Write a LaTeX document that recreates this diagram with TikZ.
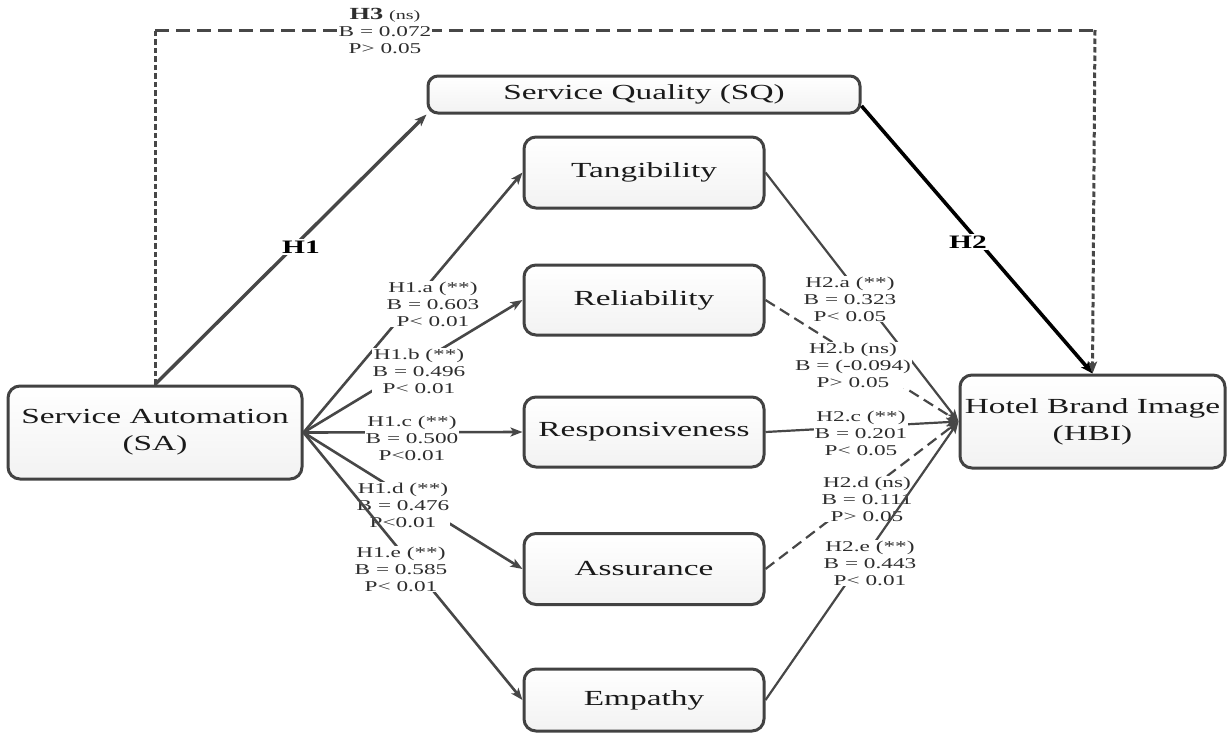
\documentclass[tikz,border=0pt]{standalone}
\usepackage{fontspec}
\setmainfont{Liberation Serif}[FakeStretch=1.55]
\usetikzlibrary{arrows.meta}
\definecolor{boxline}{HTML}{424242}
\definecolor{lineg}{HTML}{474747}
\definecolor{txt}{HTML}{1A1A1A}
\definecolor{lbl}{HTML}{2E2E2E}
\begin{document}
\begin{tikzpicture}[x=1pt,y=-1pt,
  box/.style={draw=boxline, line width=3pt, rounded corners=12pt, top color=white, bottom color=black!5,
    inner sep=0pt, font=\fontsize{21.5}{27}\selectfont, text=txt, align=center},
  arr/.style={-{Stealth[length=12pt,width=9pt,inset=3pt]}},
  hone/.style={draw=lineg, line width=2.6pt, arr},
  htwo/.style={draw=lineg, line width=2.2pt, arr},
  hdash/.style={htwo, dash pattern=on 11pt off 6pt},
  lab/.style={fill=white, inner sep=1pt, align=center, font=\fontsize{15}{17}\selectfont, text=lbl},
  blab/.style={fill=white, inner sep=1.5pt, font=\fontsize{19}{22}\selectfont\bfseries, text=black},
  hthreev/.style={draw=lineg, line width=3pt, dash pattern=on 5.5pt off 3pt},
  hthreeh/.style={draw=lineg, line width=3pt, dash pattern=on 14pt off 7pt}]
\useasboundingbox (0,0) rectangle (1227,734);

% boxes
\node[box, minimum width=294pt, minimum height=93pt] (SA) at (155,432.5) {Service Automation\\(SA)};
\node[box, minimum width=432pt, minimum height=37pt, rounded corners=10pt] (SQ) at (644,94.5) {Service Quality (SQ)};
\node[box, minimum width=240pt, minimum height=71pt] (T) at (644,172.5) {Tangibility};
\node[box, minimum width=240pt, minimum height=70pt] (R) at (644,300) {Reliability};
\node[box, minimum width=240pt, minimum height=70pt] (Rs) at (644,432) {Responsiveness};
\node[box, minimum width=240pt, minimum height=71pt] (A) at (644,569) {Assurance};
\node[box, minimum width=240pt, minimum height=62pt] (E) at (644,700) {Empathy};
\node[box, minimum width=265pt, minimum height=93pt] (HBI) at (1092.5,421.5) {Hotel Brand Image\\(HBI)};

% H3 dashed path
\coordinate (c1) at (155,30);
\coordinate (c2) at (1095,30);
\draw[hthreev] (SA.north) -- (c1);
\draw[hthreeh] (c1) -- (c2);
\draw[hthreev, arr] (c2) -- (HBI.north);
\node[lab] (l3) at (385,31) {{\fontsize{17}{17}\selectfont\bfseries H3} {\fontsize{13}{17}\selectfont (ns)}\\B = 0.072\\P> 0.05};

% H1 and H2 main paths
\draw[draw=lineg, line width=3.4pt, arr] (SA.north) -- (SQ.south west);
\node[blab] (l1) at (301,247) {H1};
\draw[draw=black, line width=3.6pt, arr] (SQ.-3) -- (HBI.north);
\node[blab] (l2) at (968,242) {H2};

% SA to dimensions
\draw[hone] (SA.east) -- (T.west);
\node[lab] (la) at (433,304) {H1.a (**)\\B = 0.603\\P< 0.01};
\draw[hone] (SA.east) -- (R.west);
\node[lab] (lb) at (419,371) {H1.b (**)\\B = 0.496\\P< 0.01};
\draw[hone] (SA.east) -- (Rs.west);
\node[lab] (lc) at (412,438) {H1.c (**)\\B = 0.500\\P<0.01};
\draw[hone] (SA.east) -- (A.west);
\node[lab] (ld) at (403,505) {H1.d (**)\\B = 0.476\\P<0.01};
\draw[hone] (SA.east) -- (E.west);
\node[lab] (le) at (401,569) {H1.e (**)\\B = 0.585\\P< 0.01};

% dimensions to HBI
\draw[htwo] (T.east) -- (HBI.west);
\node[lab] (ma) at (850,299) {H2.a (**)\\B = 0.323\\P< 0.05};
\draw[hdash] (R.east) -- (HBI.west);
\node[lab] (mb) at (853,365) {H2.b (ns)\\B = (-0.094)\\P> 0.05};
\draw[htwo] (Rs.east) -- (HBI.west);
\node[lab] (mc) at (861,433) {H2.c (**)\\B = 0.201\\P< 0.05};
\draw[hdash] (A.east) -- (HBI.west);
\node[lab] (md) at (867,499) {H2.d (ns)\\B = 0.111\\P> 0.05};
\draw[htwo] (E.east) -- (HBI.west);
\node[lab] (me) at (870,563) {H2.e (**)\\B = 0.443\\P< 0.01};
\end{tikzpicture}
\end{document}
